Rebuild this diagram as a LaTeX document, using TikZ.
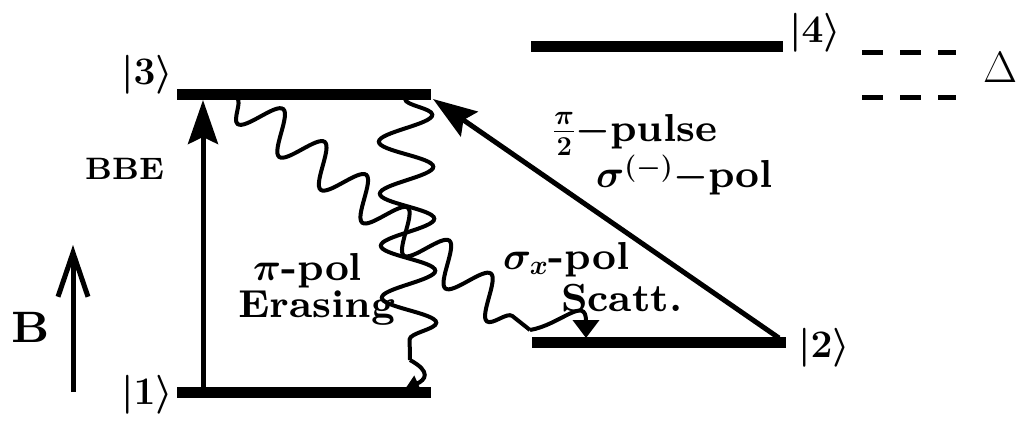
\RequirePackage{fix-cm}
\documentclass[tikz,border=0pt]{standalone}
\usepackage{amsmath}
\usepackage{fontspec}
\newfontfamily\heavy{lmroman8-bold}[Extension=.otf]
\usetikzlibrary{arrows.meta,decorations.pathmorphing}
\tikzset{
  levelline/.style={line width=11pt},
  lbl/.style={inner sep=0pt, anchor=base west, font=\fontsize{39}{44}\selectfont\heavy\boldmath},
  plainlbl/.style={inner sep=0pt, anchor=base west, font=\fontsize{40}{44}\selectfont},
  bigarrow/.style={line width=5pt, -{Stealth[length=44pt,width=30pt,inset=7pt]}},
  barrow/.style={line width=5pt, -{Straight Barb[length=44pt,width=30pt,line width=5pt]}},
  wavyline/.style={line width=4pt, decorate, decoration={snake, mirror, segment length=53pt, amplitude=20pt}},
  wavyvert/.style={line width=4pt, decorate, decoration={snake, segment length=52pt, amplitude=27pt}},
  tiparrow/.style={line width=4pt, -{Triangle[length=18pt,width=26pt]}},
  tiparrowsmall/.style={line width=4pt, -{Triangle[length=14pt,width=16pt]}},
  dashline/.style={line width=5pt, dash pattern=on 21pt off 17pt},
}
\begin{document}
\begin{tikzpicture}[x=1pt,y=-1pt]
\useasboundingbox (0,0) rectangle (1030,421);
% level end points
\coordinate (l3a) at (177,94);  \coordinate (l3b) at (431,94);
\coordinate (l1a) at (177,392); \coordinate (l1b) at (431,392);
\coordinate (l2a) at (532,342); \coordinate (l2b) at (786,342);
\coordinate (l4a) at (531,46);  \coordinate (l4b) at (783,46);
\draw[levelline] (l3a) -- (l3b);
\draw[levelline] (l1a) -- (l1b);
\draw[levelline] (l2a) -- (l2b);
\draw[levelline] (l4a) -- (l4b);
% dashed detuning lines
\coordinate (d1a) at (862,52); \coordinate (d1b) at (956,52);
\coordinate (d2a) at (862,97); \coordinate (d2b) at (956,97);
\draw[dashline] (d1a) -- (d1b);
\draw[dashline] (d2a) -- (d2b);
% state labels
\node[lbl] (s3) at (121,84) {$|3\rangle$};
\node[lbl] (s1) at (121,404) {$|1\rangle$};
\node[lbl] (s2) at (798,357) {$|2\rangle$};
\node[lbl] (s4) at (789,42) {$|4\rangle$};
\node[plainlbl] (delta) at (983,82) {\fontsize{44}{48}\selectfont$\Delta$};
% BBE arrow
\coordinate (bbeS) at (203,392); \coordinate (bbeE) at (203,100);
\draw[bigarrow] (bbeS) -- (bbeE);
\node[lbl] (bbe) at (85,179) {\fontsize{31}{36}\selectfont BBE};
% B field
\coordinate (bS) at (73,392); \coordinate (bE) at (73,245);
\draw[barrow] (bS) -- (bE);
\node[lbl] (bl) at (11,342) {\fontsize{44}{48}\selectfont B};
% pi/2 pulse
\coordinate (pS) at (779,338); \coordinate (pE) at (433,99);
\draw[bigarrow] (pS) -- (pE);
\node[lbl] (pulse) at (553,141) {\smash[b]{$\frac{\pi}{2}$}$-$pulse};
\node[lbl] (sigm) at (596,187) {$\smash[t]{\sigma^{\raisebox{-7pt}{$\scriptstyle(-)$}}}-$pol};
% scattering wavy line
\coordinate (wS) at (237,98); \coordinate (wM) at (530,330); \coordinate (wE) at (586,338);
\draw[wavyline] (wS) -- (wM);
\draw[tiparrow] (wM) .. controls (560,325) and (586,295) .. (wE);
\node[lbl] (sx) at (503,269) {$\sigma_x$-pol};
\node[lbl] (sc) at (561,311) {Scatt.};
% erasing wavy line
\coordinate (vS) at (405,99); \coordinate (vM) at (410,360); \coordinate (vE) at (405,389);
\draw[wavyvert] (vS) -- (vM);
\draw[tiparrowsmall] (vM) .. controls (432,372) and (425,380) .. (vE);
\node[lbl] (pp) at (253,280) {$\pi$-pol};
\node[lbl] (er) at (238,317) {Erasing};
\end{tikzpicture}
\end{document}
